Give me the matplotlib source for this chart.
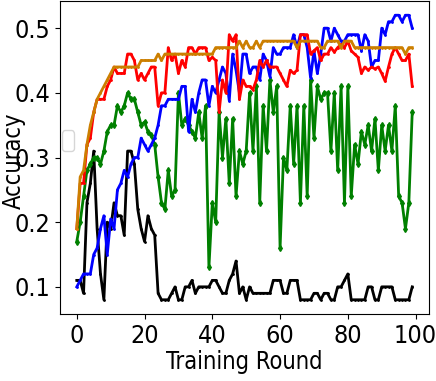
import matplotlib
matplotlib.use("Agg")
import matplotlib.pyplot as plt
from matplotlib import font_manager
import numpy as np

rounds = list(range(100))

orange = [0.19,0.27,0.28,0.32,0.35,0.37,0.39,0.40,0.41,0.42,
          0.43,0.44,0.44,0.44,0.44,0.44,0.44,0.44,0.44,0.45,
          0.45,0.45,0.45,0.45,0.46,0.45,0.46,0.46,0.46,0.46,
          0.46,0.46,0.46,0.46,0.46,0.46,0.46,0.46,0.46,0.46,
          0.46,0.47,0.47,0.47,0.47,0.47,0.47,0.47,0.48,0.47,
          0.48,0.47,0.47,0.48,0.47,0.48,0.48,0.48,0.48,0.48,
          0.48,0.48,0.48,0.48,0.48,0.47,0.48,0.48,0.48,0.48,
          0.48,0.48,0.47,0.47,0.48,0.48,0.48,0.48,0.47,0.48,
          0.48,0.48,0.47,0.47,0.47,0.47,0.47,0.47,0.47,0.47,
          0.47,0.47,0.47,0.47,0.47,0.47,0.47,0.46,0.47,0.47]

red = [0.19,0.26,0.26,0.32,0.33,0.37,0.39,0.39,0.39,0.41,
       0.42,0.44,0.43,0.43,0.43,0.46,0.46,0.45,0.42,0.43,
       0.42,0.43,0.44,0.44,0.38,0.40,0.40,0.47,0.45,0.46,
       0.43,0.45,0.44,0.47,0.47,0.46,0.47,0.47,0.47,0.45,
       0.455,0.45,0.37,0.42,0.40,0.49,0.48,0.49,0.39,0.42,
       0.41,0.41,0.405,0.42,0.45,0.44,0.45,0.44,0.44,0.44,
       0.43,0.42,0.41,0.435,0.43,0.435,0.49,0.49,0.49,0.46,
       0.465,0.47,0.45,0.46,0.46,0.47,0.463,0.47,0.475,0.47,
       0.48,0.465,0.46,0.455,0.43,0.44,0.435,0.44,0.437,0.44,
       0.43,0.418,0.44,0.46,0.47,0.46,0.45,0.45,0.46,0.41]

blue = [0.10,0.11,0.12,0.12,0.12,0.15,0.16,0.19,0.21,0.15,
        0.205,0.19,0.25,0.26,0.28,0.27,0.29,0.30,0.30,0.33,
        0.32,0.31,0.32,0.33,0.35,0.38,0.38,0.39,0.39,0.39,
        0.39,0.41,0.41,0.34,0.39,0.37,0.40,0.42,0.42,0.38,
        0.41,0.40,0.42,0.44,0.43,0.388,0.46,0.435,0.40,0.46,
        0.46,0.43,0.44,0.44,0.42,0.46,0.45,0.425,0.47,0.46,
        0.46,0.47,0.47,0.47,0.49,0.47,0.49,0.49,0.47,0.423,
        0.465,0.43,0.46,0.50,0.50,0.48,0.50,0.49,0.48,0.48,
        0.49,0.49,0.49,0.49,0.465,0.49,0.48,0.44,0.45,0.45,
        0.50,0.49,0.51,0.51,0.52,0.52,0.51,0.52,0.52,0.50]

green = [0.17,0.20,0.24,0.28,0.29,0.30,0.30,0.29,0.31,0.34,
         0.35,0.35,0.38,0.37,0.38,0.40,0.39,0.39,0.37,0.35,
         0.355,0.34,0.335,0.32,0.27,0.23,0.22,0.28,0.24,0.25,
         0.40,0.35,0.36,0.35,0.34,0.33,0.37,0.33,0.38,0.13,
         0.23,0.20,0.37,0.30,0.36,0.26,0.36,0.24,0.31,0.29,
         0.31,0.40,0.31,0.41,0.23,0.38,0.31,0.42,0.37,0.41,
         0.16,0.30,0.28,0.38,0.29,0.38,0.23,0.38,0.24,0.42,
         0.33,0.41,0.39,0.40,0.40,0.31,0.40,0.28,0.41,0.23,
         0.41,0.24,0.32,0.29,0.34,0.32,0.35,0.31,0.36,0.28,
         0.35,0.31,0.35,0.31,0.38,0.24,0.23,0.19,0.23,0.37]

black = [0.11,0.11,0.09,0.23,0.26,0.31,0.19,0.12,0.08,0.20,
         0.19,0.23,0.21,0.21,0.18,0.31,0.31,0.29,0.22,0.19,
         0.17,0.21,0.19,0.18,0.09,0.08,0.08,0.08,0.09,0.10,
         0.08,0.08,0.10,0.10,0.11,0.09,0.10,0.10,0.10,0.10,
         0.11,0.11,0.10,0.09,0.09,0.11,0.12,0.14,0.09,0.10,
         0.08,0.10,0.09,0.09,0.09,0.09,0.09,0.09,0.11,0.11,
         0.11,0.09,0.09,0.11,0.11,0.11,0.08,0.08,0.08,0.08,
         0.09,0.09,0.08,0.09,0.09,0.08,0.08,0.10,0.10,0.11,
         0.12,0.08,0.08,0.08,0.08,0.08,0.10,0.10,0.08,0.08,
         0.10,0.10,0.10,0.10,0.08,0.08,0.08,0.08,0.08,0.10]

# use the condensed DejaVu face when it is installed
has_cond = any(f.name == "DejaVu Sans" and str(f.stretch) == "condensed"
               for f in font_manager.fontManager.ttflist)
plt.rcParams["font.family"] = ["DejaVu Sans"]
plt.rcParams["font.stretch"] = "condensed" if has_cond else "normal"

fig = plt.figure(figsize=(4.36, 3.81), dpi=100)
ax = fig.add_axes([60/436, 67/381, 369/436, 313/381])

lw = 2
ax.plot(rounds, black, color="black", lw=lw, marker=".", ms=2)
ax.plot(rounds, green, color="green", lw=lw, marker="d", ms=3)
ax.plot(rounds, blue, color="blue", lw=lw, marker=".", ms=2)
ax.plot(rounds, red, color="red", lw=lw, marker=".", ms=2)
ax.plot(rounds, orange, color="#CC7F00", lw=lw, marker=".", ms=2)

ax.set_xticks([0, 20, 40, 60, 80, 100])
ax.set_yticks([0.1, 0.2, 0.3, 0.4, 0.5])
ax.tick_params(labelsize=18)
ax.set_xlabel("Training Round", fontsize=17, labelpad=2)
ax.set_ylabel("Accuracy", fontsize=17)
ax.yaxis.set_label_coords(-0.093, 0.49)

ax.legend(loc="center left", bbox_to_anchor=(0.0, 0.553), fontsize=11,
          title=" ", title_fontsize=1, borderaxespad=0.1)

fig.savefig("out.png", dpi=100)
